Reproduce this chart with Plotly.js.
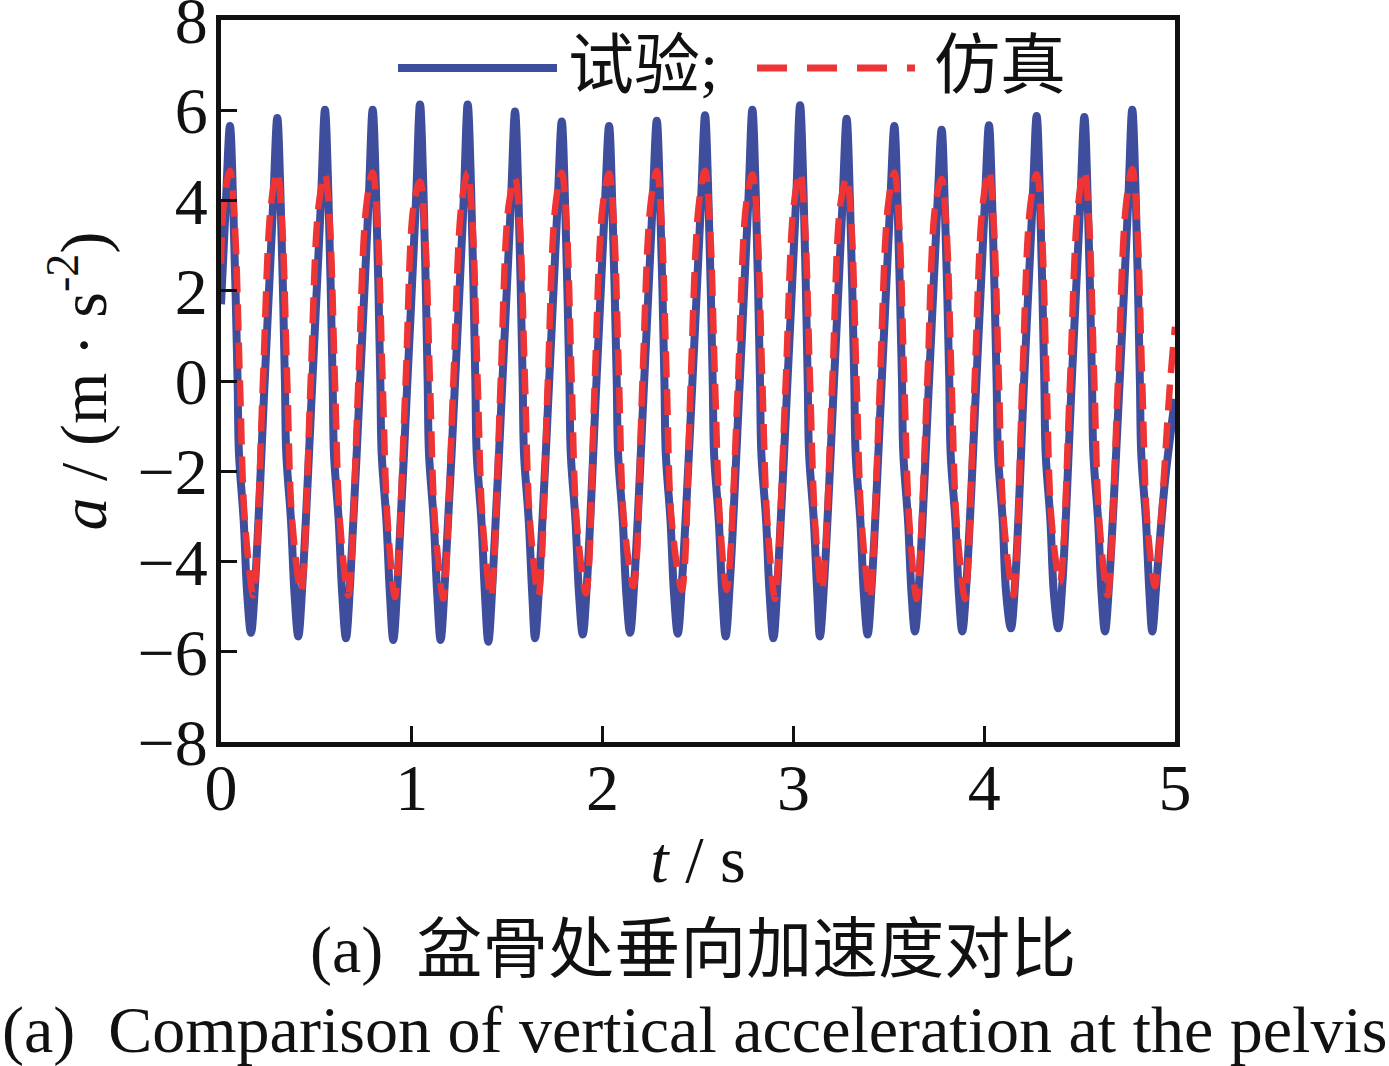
<!DOCTYPE html>
<html>
<head>
<meta charset="utf-8">
<script src="https://cdn.plot.ly/plotly-3.0.1.min.js"></script>
<style>
  html, body { margin: 0; padding: 0; background: #ffffff; }
  #chart { width: 1389px; height: 1066px; }
</style>
</head>
<body>
<div id="chart"></div>
<script>
// ---- Data ----
// 试验 (test) — time (s) and acceleration (m·s^-2)
const testT = [
  0.000, 0.026,
  0.047, 0.065, 0.087, 0.094, 0.119, 0.137, 0.157, 0.180, 0.229, 0.274,
  0.295, 0.313, 0.335, 0.342, 0.367, 0.385, 0.405, 0.428, 0.479, 0.524,
  0.545, 0.563, 0.585, 0.592, 0.617, 0.635, 0.655, 0.678, 0.729, 0.774,
  0.795, 0.813, 0.835, 0.842, 0.867, 0.885, 0.903, 0.926, 0.977, 1.022,
  1.043, 1.061, 1.083, 1.090, 1.115, 1.133, 1.151, 1.174, 1.227, 1.272,
  1.293, 1.311, 1.333, 1.340, 1.365, 1.383, 1.401, 1.424, 1.475, 1.520,
  1.541, 1.559, 1.581, 1.588, 1.613, 1.631, 1.646, 1.669, 1.720, 1.765,
  1.786, 1.804, 1.826, 1.833, 1.858, 1.876, 1.896, 1.919, 1.968, 2.013,
  2.034, 2.052, 2.074, 2.081, 2.106, 2.124, 2.144, 2.167, 2.218, 2.263,
  2.284, 2.302, 2.324, 2.331, 2.356, 2.374, 2.394, 2.417, 2.471, 2.516,
  2.537, 2.555, 2.577, 2.584, 2.609, 2.627, 2.645, 2.668, 2.719, 2.764,
  2.785, 2.803, 2.825, 2.832, 2.857, 2.875, 2.895, 2.918, 2.969, 3.014,
  3.035, 3.053, 3.075, 3.082, 3.107, 3.125, 3.139, 3.162, 3.213, 3.258,
  3.279, 3.297, 3.319, 3.326, 3.351, 3.369, 3.389, 3.412, 3.463, 3.508,
  3.529, 3.547, 3.569, 3.576, 3.601, 3.619, 3.637, 3.660, 3.711, 3.756,
  3.777, 3.795, 3.817, 3.824, 3.849, 3.867, 3.885, 3.908, 3.959, 4.004,
  4.025, 4.043, 4.065, 4.072, 4.097, 4.115, 4.140, 4.163, 4.209, 4.254,
  4.275, 4.293, 4.315, 4.322, 4.347, 4.365, 4.388, 4.411, 4.459, 4.504,
  4.525, 4.543, 4.565, 4.572, 4.597, 4.615, 4.633, 4.656, 4.710, 4.755,
  4.776, 4.794, 4.816, 4.823, 4.848, 4.866, 4.881, 4.904, 4.948, 5.000
];
const testA = [
  1.70, 4.00,
  5.65, 3.75, 0.00, -1.60, -3.10, -4.70, -5.58, -4.40, 0.00, 4.00,
  5.83, 3.93, 0.00, -1.60, -3.10, -4.70, -5.66, -4.40, 0.00, 4.00,
  6.01, 4.11, 0.00, -1.60, -3.10, -4.70, -5.70, -4.40, 0.00, 4.00,
  6.01, 4.11, 0.00, -1.60, -3.10, -4.70, -5.74, -4.40, 0.00, 4.00,
  6.13, 4.23, 0.00, -1.60, -3.10, -4.70, -5.74, -4.40, 0.00, 4.00,
  6.13, 4.23, 0.00, -1.60, -3.10, -4.70, -5.78, -4.40, 0.00, 4.00,
  5.97, 4.07, 0.00, -1.60, -3.10, -4.70, -5.70, -4.40, 0.00, 4.00,
  5.75, 3.85, 0.00, -1.60, -3.10, -4.70, -5.62, -4.40, 0.00, 4.00,
  5.65, 3.75, 0.00, -1.60, -3.10, -4.70, -5.58, -4.40, 0.00, 4.00,
  5.77, 3.87, 0.00, -1.60, -3.10, -4.70, -5.60, -4.40, 0.00, 4.00,
  5.89, 3.99, 0.00, -1.60, -3.10, -4.70, -5.66, -4.40, 0.00, 4.00,
  6.01, 4.11, 0.00, -1.60, -3.10, -4.70, -5.70, -4.40, 0.00, 4.00,
  6.11, 4.21, 0.00, -1.60, -3.10, -4.70, -5.66, -4.40, 0.00, 4.00,
  5.81, 3.91, 0.00, -1.60, -3.10, -4.70, -5.62, -4.40, 0.00, 4.00,
  5.65, 3.75, 0.00, -1.60, -3.10, -4.70, -5.55, -4.40, 0.00, 4.00,
  5.57, 3.67, 0.00, -1.60, -3.10, -4.70, -5.55, -4.40, 0.00, 4.00,
  5.67, 3.77, 0.00, -1.60, -3.10, -4.70, -5.48, -4.40, 0.00, 4.00,
  5.87, 3.97, 0.00, -1.60, -3.10, -4.70, -5.48, -4.40, 0.00, 4.00,
  5.85, 3.95, 0.00, -1.60, -3.10, -4.70, -5.55, -4.40, 0.00, 4.00,
  6.01, 4.11, 0.00, -1.60, -3.10, -4.70, -5.55, -4.40, -2.20, -0.40
];
// 仿真 (simulation)
const simT = [
  0.000, 0.014,
  0.047, 0.072, 0.099, 0.125, 0.169, 0.183, 0.220, 0.262,
  0.295, 0.320, 0.347, 0.373, 0.419, 0.433, 0.470, 0.512,
  0.545, 0.570, 0.597, 0.623, 0.667, 0.681, 0.720, 0.762,
  0.795, 0.820, 0.847, 0.873, 0.912, 0.926, 0.968, 1.010,
  1.043, 1.068, 1.095, 1.121, 1.165, 1.179, 1.218, 1.260,
  1.293, 1.318, 1.345, 1.371, 1.415, 1.429, 1.466, 1.508,
  1.541, 1.566, 1.593, 1.619, 1.664, 1.678, 1.713, 1.753,
  1.786, 1.811, 1.838, 1.864, 1.913, 1.927, 1.959, 2.001,
  2.034, 2.059, 2.086, 2.112, 2.162, 2.176, 2.209, 2.251,
  2.284, 2.309, 2.336, 2.362, 2.415, 2.429, 2.462, 2.504,
  2.537, 2.562, 2.589, 2.615, 2.650, 2.664, 2.710, 2.752,
  2.785, 2.810, 2.837, 2.863, 2.904, 2.918, 2.960, 3.002,
  3.035, 3.060, 3.087, 3.113, 3.148, 3.162, 3.204, 3.246,
  3.279, 3.304, 3.331, 3.357, 3.401, 3.415, 3.454, 3.496,
  3.529, 3.554, 3.581, 3.607, 3.646, 3.660, 3.702, 3.744,
  3.777, 3.802, 3.829, 3.855, 3.900, 3.914, 3.950, 3.992,
  4.025, 4.050, 4.077, 4.103, 4.153, 4.167, 4.200, 4.242,
  4.275, 4.300, 4.327, 4.353, 4.397, 4.411, 4.450, 4.492,
  4.525, 4.550, 4.577, 4.603, 4.647, 4.661, 4.701, 4.743,
  4.776, 4.801, 4.828, 4.854, 4.895, 4.909, 4.975, 5.000
];
const simA = [
  2.60, 3.90,
  4.66, 3.50, 0.00, -3.10, -4.75, -4.20, 0.00, 3.90,
  4.63, 3.50, 0.00, -3.10, -4.67, -4.20, 0.00, 3.90,
  4.58, 3.50, 0.00, -3.10, -4.75, -4.20, 0.00, 3.90,
  4.62, 3.50, 0.00, -3.10, -4.79, -4.20, 0.00, 3.90,
  4.42, 3.40, 0.00, -3.10, -4.83, -4.20, 0.00, 3.90,
  4.62, 3.50, 0.00, -3.10, -4.79, -4.20, 0.00, 3.90,
  4.50, 3.45, 0.00, -3.10, -4.75, -4.20, 0.00, 3.90,
  4.62, 3.50, 0.00, -3.10, -4.71, -4.20, 0.00, 3.90,
  4.60, 3.50, 0.00, -3.10, -4.55, -4.10, 0.00, 3.90,
  4.66, 3.50, 0.00, -3.10, -4.63, -4.20, 0.00, 3.90,
  4.66, 3.50, 0.00, -3.10, -4.63, -4.20, 0.00, 3.90,
  4.58, 3.50, 0.00, -3.10, -4.83, -4.20, 0.00, 3.90,
  4.62, 3.50, 0.00, -3.10, -4.63, -4.20, 0.00, 3.90,
  4.50, 3.45, 0.00, -3.10, -4.83, -4.20, 0.00, 3.90,
  4.62, 3.50, 0.00, -3.10, -4.83, -4.20, 0.00, 3.90,
  4.48, 3.40, 0.00, -3.10, -4.83, -4.20, 0.00, 3.90,
  4.66, 3.50, 0.00, -3.10, -4.75, -4.20, 0.00, 3.90,
  4.58, 3.50, 0.00, -3.10, -4.47, -4.00, 0.00, 3.90,
  4.66, 3.50, 0.00, -3.10, -4.75, -4.20, 0.00, 3.90,
  4.70, 3.55, 0.00, -3.10, -4.55, -4.10, 0.00, 1.20
];
const xTickVals = [0, 1, 2, 3, 4, 5];
const yTickVals = [-8, -6, -4, -2, 0, 2, 4, 6, 8];
const seriesNames = ['试验;', '仿真'];
const xTitle = '<i>t</i> / s';
const yTitle = '<i>a</i> / (m · s<sup>-2</sup>)';
const captionCN = '(a)  盆骨处垂向加速度对比';
const captionEN = '(a)  Comparison of vertical acceleration at the pelvis';

// ---- Styling ----
const BLUE = '#3F4E9C';
const RED = '#EE3434';
const FONT = "'Liberation Serif', 'Times New Roman', 'Noto Sans CJK SC', serif";
const CJK = "'Liberation Serif', 'Noto Sans CJK SC', serif";

const traces = [
  {
    x: testT, y: testA, type: 'scatter', mode: 'lines', name: seriesNames[0],
    line: { color: BLUE, width: 8, shape: 'spline', smoothing: 1 },
    showlegend: false, hoverinfo: 'skip'
  },
  {
    x: simT, y: simA, type: 'scatter', mode: 'lines', name: seriesNames[1],
    line: { color: RED, width: 6.5, dash: '26px,12px', shape: 'spline', smoothing: 1 },
    showlegend: false, hoverinfo: 'skip'
  }
];

const plotL = 221, plotR = 1175, plotT = 20, plotB = 742;
const pw = plotR - plotL, ph = plotB - plotT;
const px = v => (v - plotL) / pw;
const py = v => (plotB - v) / ph;

const layout = {
  width: 1389, height: 1066,
  margin: { l: plotL, r: 1389 - plotR, t: plotT, b: 1066 - plotB, pad: 0 },
  paper_bgcolor: '#ffffff', plot_bgcolor: '#ffffff',
  font: { family: FONT, size: 66, color: '#111111' },
  showlegend: false,
  xaxis: {
    range: [0, 5], tickvals: xTickVals, ticktext: xTickVals.map(String),
    showgrid: false, zeroline: false,
    showline: true, linecolor: '#111111', linewidth: 5, mirror: true,
    ticks: 'inside', ticklen: 16, tickwidth: 3, tickcolor: '#111111',
    tickfont: { family: FONT, size: 66, color: '#111111' },
    ticklabelstandoff: -16, ticklabeloverflow: 'allow',
    title: { text: xTitle, font: { family: FONT, size: 66, color: '#111111' }, standoff: 14 },
    fixedrange: true
  },
  yaxis: {
    range: [-8, 8], tickvals: yTickVals, ticktext: yTickVals.map(v => v < 0 ? '\u2212' + Math.abs(v) : String(v)),
    showgrid: false, zeroline: false,
    showline: true, linecolor: '#111111', linewidth: 5, mirror: true,
    ticks: 'inside', ticklen: 16, tickwidth: 3, tickcolor: '#111111',
    tickfont: { family: FONT, size: 66, color: '#111111' },
    ticklabelstandoff: -5, ticklabeloverflow: 'allow',
    title: { text: yTitle, font: { family: FONT, size: 66, color: '#111111' }, standoff: 11 },
    fixedrange: true
  },
  shapes: [
    { type: 'line', xref: 'paper', yref: 'paper', x0: px(398), x1: px(557), y0: py(68), y1: py(68),
      line: { color: BLUE, width: 8 } },
    { type: 'line', xref: 'paper', yref: 'paper', x0: px(757), x1: px(915), y0: py(68), y1: py(68),
      line: { color: RED, width: 7, dash: '30px,20px' } }
  ],
  annotations: [
    { xref: 'paper', yref: 'paper', x: px(566), y: py(66), xanchor: 'left', yanchor: 'middle',
      text: seriesNames[0], showarrow: false, font: { family: CJK, size: 66, color: '#111111' } },
    { xref: 'paper', yref: 'paper', x: px(932), y: py(66), xanchor: 'left', yanchor: 'middle',
      text: seriesNames[1], showarrow: false, font: { family: CJK, size: 66, color: '#111111' } },
    { xref: 'paper', yref: 'paper', x: px(693), y: py(950), xanchor: 'center', yanchor: 'middle',
      text: captionCN, showarrow: false, font: { family: CJK, size: 66, color: '#111111' } },
    { xref: 'paper', yref: 'paper', x: px(694), y: py(1030), xanchor: 'center', yanchor: 'middle',
      text: captionEN, showarrow: false, font: { family: FONT, size: 66, color: '#111111' } }
  ]
};

Plotly.newPlot('chart', traces, layout, { displayModeBar: false, staticPlot: true });
</script>
</body>
</html>
